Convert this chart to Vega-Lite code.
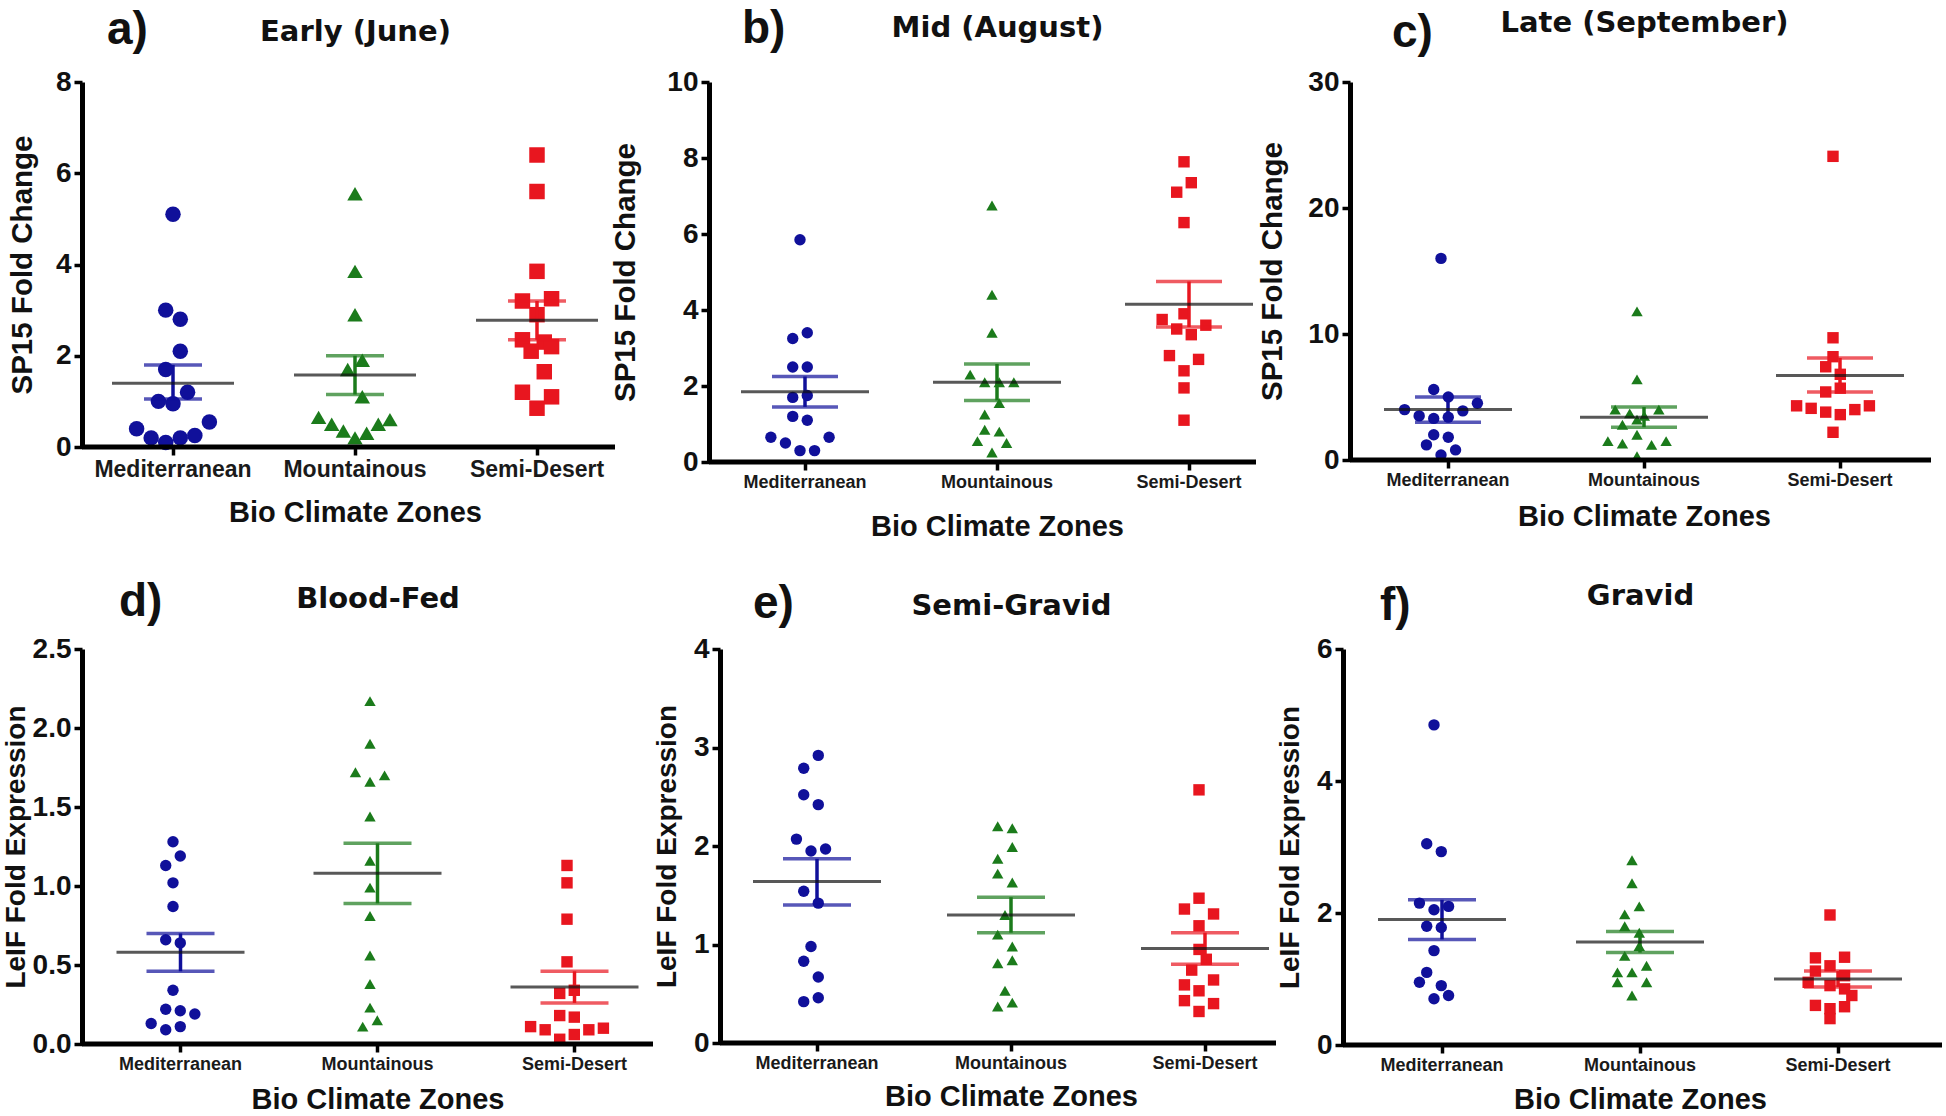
{
"$schema": "https://vega.github.io/schema/vega-lite/v6.json",
"background": "white",
"padding": {"left": 2, "top": 6, "right": 0, "bottom": 0},
"spacing": 38,
"config": {"view": {"stroke": null}, "axis": {"grid": false}},
"datasets": {
"a_pts": [
{"zone":"Mediterranean","v":5.1,"lane":0},{"zone":"Mediterranean","v":3.0,"lane":-0.5},{"zone":"Mediterranean","v":2.8,"lane":0.5},{"zone":"Mediterranean","v":2.1,"lane":0.5},{"zone":"Mediterranean","v":1.7,"lane":-0.5},{"zone":"Mediterranean","v":1.2,"lane":1},{"zone":"Mediterranean","v":1.0,"lane":-1},{"zone":"Mediterranean","v":0.95,"lane":0},{"zone":"Mediterranean","v":0.55,"lane":2.5},{"zone":"Mediterranean","v":0.4,"lane":-2.5},{"zone":"Mediterranean","v":0.2,"lane":-1.5},{"zone":"Mediterranean","v":0.1,"lane":-0.5},{"zone":"Mediterranean","v":0.2,"lane":0.5},{"zone":"Mediterranean","v":0.25,"lane":1.5},
{"zone":"Mountainous","v":5.55,"lane":0},{"zone":"Mountainous","v":3.85,"lane":0},{"zone":"Mountainous","v":2.9,"lane":0},{"zone":"Mountainous","v":1.9,"lane":0.5},{"zone":"Mountainous","v":1.7,"lane":-0.5},{"zone":"Mountainous","v":1.1,"lane":0.5},{"zone":"Mountainous","v":0.65,"lane":-2.5},{"zone":"Mountainous","v":0.5,"lane":-1.6},{"zone":"Mountainous","v":0.35,"lane":-0.8},{"zone":"Mountainous","v":0.2,"lane":0},{"zone":"Mountainous","v":0.3,"lane":0.8},{"zone":"Mountainous","v":0.5,"lane":1.6},{"zone":"Mountainous","v":0.6,"lane":2.4},
{"zone":"Semi-Desert","v":6.4,"lane":0},{"zone":"Semi-Desert","v":5.6,"lane":0},{"zone":"Semi-Desert","v":3.85,"lane":0},{"zone":"Semi-Desert","v":3.2,"lane":-1},{"zone":"Semi-Desert","v":3.25,"lane":1},{"zone":"Semi-Desert","v":2.9,"lane":0},{"zone":"Semi-Desert","v":2.35,"lane":-1},{"zone":"Semi-Desert","v":2.3,"lane":0.5},{"zone":"Semi-Desert","v":2.2,"lane":1},{"zone":"Semi-Desert","v":2.1,"lane":-0.4},{"zone":"Semi-Desert","v":1.65,"lane":0.5},{"zone":"Semi-Desert","v":1.2,"lane":-1},{"zone":"Semi-Desert","v":1.1,"lane":1},{"zone":"Semi-Desert","v":0.85,"lane":0}
],
"a_stats": [{"zone":"Mediterranean","mean":1.4,"lo":1.05,"hi":1.8},{"zone":"Mountainous","mean":1.58,"lo":1.15,"hi":2.0},{"zone":"Semi-Desert","mean":2.78,"lo":2.35,"hi":3.2}],
"b_pts": [
{"zone":"Mediterranean","v":5.85,"lane":0},{"zone":"Mediterranean","v":3.4,"lane":0.5},{"zone":"Mediterranean","v":3.25,"lane":-0.5},{"zone":"Mediterranean","v":2.5,"lane":-0.5},{"zone":"Mediterranean","v":2.5,"lane":0.5},{"zone":"Mediterranean","v":1.7,"lane":-0.5},{"zone":"Mediterranean","v":1.75,"lane":0.5},{"zone":"Mediterranean","v":1.2,"lane":-0.5},{"zone":"Mediterranean","v":1.1,"lane":0.5},{"zone":"Mediterranean","v":0.65,"lane":-2},{"zone":"Mediterranean","v":0.5,"lane":-1},{"zone":"Mediterranean","v":0.3,"lane":0},{"zone":"Mediterranean","v":0.3,"lane":1},{"zone":"Mediterranean","v":0.65,"lane":2},
{"zone":"Mountainous","v":6.75,"lane":0},{"zone":"Mountainous","v":4.4,"lane":0},{"zone":"Mountainous","v":3.4,"lane":0},{"zone":"Mountainous","v":2.3,"lane":-1.5},{"zone":"Mountainous","v":2.1,"lane":-0.5},{"zone":"Mountainous","v":2.1,"lane":0.5},{"zone":"Mountainous","v":2.1,"lane":1.5},{"zone":"Mountainous","v":1.55,"lane":0.5},{"zone":"Mountainous","v":1.25,"lane":-0.5},{"zone":"Mountainous","v":0.85,"lane":-0.5},{"zone":"Mountainous","v":0.8,"lane":0.5},{"zone":"Mountainous","v":0.55,"lane":-1},{"zone":"Mountainous","v":0.5,"lane":1},{"zone":"Mountainous","v":0.25,"lane":0},
{"zone":"Semi-Desert","v":7.9,"lane":0},{"zone":"Semi-Desert","v":7.35,"lane":0.5},{"zone":"Semi-Desert","v":7.1,"lane":-0.5},{"zone":"Semi-Desert","v":6.3,"lane":0},{"zone":"Semi-Desert","v":3.9,"lane":0},{"zone":"Semi-Desert","v":3.75,"lane":-1.5},{"zone":"Semi-Desert","v":3.6,"lane":1.5},{"zone":"Semi-Desert","v":3.5,"lane":-0.5},{"zone":"Semi-Desert","v":3.35,"lane":0.5},{"zone":"Semi-Desert","v":2.8,"lane":-1},{"zone":"Semi-Desert","v":2.7,"lane":1},{"zone":"Semi-Desert","v":2.4,"lane":0},{"zone":"Semi-Desert","v":1.95,"lane":0},{"zone":"Semi-Desert","v":1.1,"lane":0}
],
"b_stats": [{"zone":"Mediterranean","mean":1.85,"lo":1.45,"hi":2.25},{"zone":"Mountainous","mean":2.1,"lo":1.62,"hi":2.58},{"zone":"Semi-Desert","mean":4.15,"lo":3.55,"hi":4.75}],
"c_pts": [
{"zone":"Mediterranean","v":16,"lane":0},{"zone":"Mediterranean","v":5.6,"lane":-0.5},{"zone":"Mediterranean","v":5.0,"lane":0.5},{"zone":"Mediterranean","v":4.5,"lane":2.5},{"zone":"Mediterranean","v":4.0,"lane":-2.5},{"zone":"Mediterranean","v":3.9,"lane":1.5},{"zone":"Mediterranean","v":3.5,"lane":-1.5},{"zone":"Mediterranean","v":3.3,"lane":-0.5},{"zone":"Mediterranean","v":3.4,"lane":0.5},{"zone":"Mediterranean","v":2.0,"lane":-0.5},{"zone":"Mediterranean","v":1.8,"lane":0.5},{"zone":"Mediterranean","v":1.2,"lane":-1},{"zone":"Mediterranean","v":0.8,"lane":1},{"zone":"Mediterranean","v":0.4,"lane":0},
{"zone":"Mountainous","v":11.8,"lane":0},{"zone":"Mountainous","v":6.4,"lane":0},{"zone":"Mountainous","v":4.0,"lane":-1.5},{"zone":"Mountainous","v":4.0,"lane":1.5},{"zone":"Mountainous","v":3.7,"lane":-0.5},{"zone":"Mountainous","v":3.5,"lane":0.5},{"zone":"Mountainous","v":3.2,"lane":0},{"zone":"Mountainous","v":2.8,"lane":-1},{"zone":"Mountainous","v":2.0,"lane":0},{"zone":"Mountainous","v":1.5,"lane":-2},{"zone":"Mountainous","v":1.3,"lane":-1},{"zone":"Mountainous","v":1.2,"lane":1},{"zone":"Mountainous","v":1.5,"lane":2},{"zone":"Mountainous","v":0.3,"lane":0},
{"zone":"Semi-Desert","v":24.1,"lane":0},{"zone":"Semi-Desert","v":9.7,"lane":0},{"zone":"Semi-Desert","v":8.2,"lane":0},{"zone":"Semi-Desert","v":7.4,"lane":-0.5},{"zone":"Semi-Desert","v":6.8,"lane":0.5},{"zone":"Semi-Desert","v":5.7,"lane":0.5},{"zone":"Semi-Desert","v":5.4,"lane":-0.5},{"zone":"Semi-Desert","v":4.3,"lane":-2.5},{"zone":"Semi-Desert","v":4.3,"lane":2.5},{"zone":"Semi-Desert","v":4.1,"lane":-1.5},{"zone":"Semi-Desert","v":3.8,"lane":-0.5},{"zone":"Semi-Desert","v":3.6,"lane":0.5},{"zone":"Semi-Desert","v":4.0,"lane":1.5},{"zone":"Semi-Desert","v":2.2,"lane":0}
],
"c_stats": [{"zone":"Mediterranean","mean":4.0,"lo":3.0,"hi":5.0},{"zone":"Mountainous","mean":3.4,"lo":2.6,"hi":4.2},{"zone":"Semi-Desert","mean":6.7,"lo":5.4,"hi":8.1}],
"d_pts": [
{"zone":"Mediterranean","v":1.28,"lane":0},{"zone":"Mediterranean","v":1.19,"lane":0.5},{"zone":"Mediterranean","v":1.13,"lane":-0.5},{"zone":"Mediterranean","v":1.02,"lane":0},{"zone":"Mediterranean","v":0.87,"lane":0},{"zone":"Mediterranean","v":0.66,"lane":-0.5},{"zone":"Mediterranean","v":0.64,"lane":0.5},{"zone":"Mediterranean","v":0.34,"lane":0},{"zone":"Mediterranean","v":0.22,"lane":-0.5},{"zone":"Mediterranean","v":0.21,"lane":0.5},{"zone":"Mediterranean","v":0.19,"lane":1.5},{"zone":"Mediterranean","v":0.13,"lane":-1.5},{"zone":"Mediterranean","v":0.11,"lane":0.5},{"zone":"Mediterranean","v":0.09,"lane":-0.5},
{"zone":"Mountainous","v":2.17,"lane":0},{"zone":"Mountainous","v":1.9,"lane":0},{"zone":"Mountainous","v":1.72,"lane":-1},{"zone":"Mountainous","v":1.7,"lane":1},{"zone":"Mountainous","v":1.66,"lane":0},{"zone":"Mountainous","v":1.44,"lane":0},{"zone":"Mountainous","v":1.16,"lane":0},{"zone":"Mountainous","v":0.99,"lane":0},{"zone":"Mountainous","v":0.81,"lane":0},{"zone":"Mountainous","v":0.56,"lane":0},{"zone":"Mountainous","v":0.38,"lane":0},{"zone":"Mountainous","v":0.23,"lane":0},{"zone":"Mountainous","v":0.15,"lane":0.5},{"zone":"Mountainous","v":0.11,"lane":-0.5},
{"zone":"Semi-Desert","v":1.13,"lane":0},{"zone":"Semi-Desert","v":1.02,"lane":0},{"zone":"Semi-Desert","v":0.79,"lane":0},{"zone":"Semi-Desert","v":0.52,"lane":0},{"zone":"Semi-Desert","v":0.34,"lane":0.5},{"zone":"Semi-Desert","v":0.32,"lane":-0.5},{"zone":"Semi-Desert","v":0.18,"lane":-0.5},{"zone":"Semi-Desert","v":0.17,"lane":0.5},{"zone":"Semi-Desert","v":0.11,"lane":-2.5},{"zone":"Semi-Desert","v":0.1,"lane":2.5},{"zone":"Semi-Desert","v":0.09,"lane":-1.5},{"zone":"Semi-Desert","v":0.09,"lane":1.5},{"zone":"Semi-Desert","v":0.06,"lane":0.5},{"zone":"Semi-Desert","v":0.03,"lane":-0.5}
],
"d_stats": [{"zone":"Mediterranean","mean":0.58,"lo":0.46,"hi":0.7},{"zone":"Mountainous","mean":1.08,"lo":0.89,"hi":1.27},{"zone":"Semi-Desert","mean":0.36,"lo":0.26,"hi":0.46}],
"e_pts": [
{"zone":"Mediterranean","v":2.92,"lane":0.5},{"zone":"Mediterranean","v":2.79,"lane":-0.5},{"zone":"Mediterranean","v":2.52,"lane":-0.5},{"zone":"Mediterranean","v":2.42,"lane":0.5},{"zone":"Mediterranean","v":2.07,"lane":-1},{"zone":"Mediterranean","v":1.97,"lane":1},{"zone":"Mediterranean","v":1.95,"lane":0},{"zone":"Mediterranean","v":1.54,"lane":-0.5},{"zone":"Mediterranean","v":1.42,"lane":0.5},{"zone":"Mediterranean","v":0.98,"lane":0},{"zone":"Mediterranean","v":0.83,"lane":-0.5},{"zone":"Mediterranean","v":0.67,"lane":0.5},{"zone":"Mediterranean","v":0.46,"lane":0.5},{"zone":"Mediterranean","v":0.42,"lane":-0.5},
{"zone":"Mountainous","v":2.2,"lane":-0.5},{"zone":"Mountainous","v":2.18,"lane":0.5},{"zone":"Mountainous","v":1.99,"lane":0.5},{"zone":"Mountainous","v":1.87,"lane":-0.5},{"zone":"Mountainous","v":1.72,"lane":-0.5},{"zone":"Mountainous","v":1.63,"lane":0.5},{"zone":"Mountainous","v":1.3,"lane":0},{"zone":"Mountainous","v":1.1,"lane":-0.5},{"zone":"Mountainous","v":0.98,"lane":0.5},{"zone":"Mountainous","v":0.84,"lane":0.5},{"zone":"Mountainous","v":0.81,"lane":-0.5},{"zone":"Mountainous","v":0.53,"lane":0},{"zone":"Mountainous","v":0.41,"lane":0.5},{"zone":"Mountainous","v":0.37,"lane":-0.5},
{"zone":"Semi-Desert","v":2.57,"lane":0},{"zone":"Semi-Desert","v":1.47,"lane":0},{"zone":"Semi-Desert","v":1.36,"lane":-1},{"zone":"Semi-Desert","v":1.31,"lane":1},{"zone":"Semi-Desert","v":1.19,"lane":0},{"zone":"Semi-Desert","v":0.95,"lane":0},{"zone":"Semi-Desert","v":0.85,"lane":0.5},{"zone":"Semi-Desert","v":0.74,"lane":-0.5},{"zone":"Semi-Desert","v":0.64,"lane":1},{"zone":"Semi-Desert","v":0.59,"lane":-1},{"zone":"Semi-Desert","v":0.53,"lane":0},{"zone":"Semi-Desert","v":0.43,"lane":-1},{"zone":"Semi-Desert","v":0.4,"lane":1},{"zone":"Semi-Desert","v":0.32,"lane":0}
],
"e_stats": [{"zone":"Mediterranean","mean":1.64,"lo":1.4,"hi":1.87},{"zone":"Mountainous","mean":1.3,"lo":1.12,"hi":1.48},{"zone":"Semi-Desert","mean":0.96,"lo":0.8,"hi":1.12}],
"f_pts": [
{"zone":"Mediterranean","v":4.85,"lane":0},{"zone":"Mediterranean","v":3.05,"lane":-0.5},{"zone":"Mediterranean","v":2.93,"lane":0.5},{"zone":"Mediterranean","v":2.15,"lane":-1},{"zone":"Mediterranean","v":2.1,"lane":1},{"zone":"Mediterranean","v":2.05,"lane":0},{"zone":"Mediterranean","v":1.8,"lane":-0.5},{"zone":"Mediterranean","v":1.78,"lane":0.5},{"zone":"Mediterranean","v":1.43,"lane":0},{"zone":"Mediterranean","v":1.1,"lane":-0.5},{"zone":"Mediterranean","v":0.95,"lane":-1},{"zone":"Mediterranean","v":0.9,"lane":0.5},{"zone":"Mediterranean","v":0.75,"lane":1},{"zone":"Mediterranean","v":0.7,"lane":0},
{"zone":"Mountainous","v":2.8,"lane":0},{"zone":"Mountainous","v":2.45,"lane":0},{"zone":"Mountainous","v":2.1,"lane":0.5},{"zone":"Mountainous","v":1.98,"lane":-0.5},{"zone":"Mountainous","v":1.8,"lane":-0.5},{"zone":"Mountainous","v":1.7,"lane":0.5},{"zone":"Mountainous","v":1.5,"lane":0.5},{"zone":"Mountainous","v":1.35,"lane":-0.5},{"zone":"Mountainous","v":1.2,"lane":1},{"zone":"Mountainous","v":1.1,"lane":-1},{"zone":"Mountainous","v":1.1,"lane":0},{"zone":"Mountainous","v":0.95,"lane":-1},{"zone":"Mountainous","v":0.95,"lane":1},{"zone":"Mountainous","v":0.75,"lane":0},
{"zone":"Semi-Desert","v":1.97,"lane":0},{"zone":"Semi-Desert","v":1.32,"lane":-1},{"zone":"Semi-Desert","v":1.33,"lane":1},{"zone":"Semi-Desert","v":1.2,"lane":0},{"zone":"Semi-Desert","v":1.12,"lane":-1},{"zone":"Semi-Desert","v":1.05,"lane":1},{"zone":"Semi-Desert","v":0.95,"lane":-1.5},{"zone":"Semi-Desert","v":0.9,"lane":0},{"zone":"Semi-Desert","v":0.85,"lane":1},{"zone":"Semi-Desert","v":0.75,"lane":1.5},{"zone":"Semi-Desert","v":0.6,"lane":-1},{"zone":"Semi-Desert","v":0.58,"lane":1},{"zone":"Semi-Desert","v":0.55,"lane":0},{"zone":"Semi-Desert","v":0.4,"lane":0}
],
"f_stats": [{"zone":"Mediterranean","mean":1.9,"lo":1.6,"hi":2.2},{"zone":"Mountainous","mean":1.56,"lo":1.4,"hi":1.72},{"zone":"Semi-Desert","mean":1.0,"lo":0.88,"hi":1.12}]
},
"vconcat": [
{"hconcat": [
{"width": 533, "height": 365,
 "title": {"text": "a)", "anchor": "start", "frame": "group", "dx": 25, "offset": -73, "fontSize": 46, "font": "Liberation Sans", "fontWeight": "bold", "baseline": "alphabetic", "color": "#111111"},
 "resolve": {"axis": {"x": "independent"}},
 "layer": [
  {"data": {"name": "a_pts"}, "mark": {"type": "point", "filled": true, "opacity": 1, "size": 240},
   "encoding": {
    "x": {"field": "zone", "type": "nominal", "sort": null, "scale": {"domain": ["Mediterranean","Mountainous","Semi-Desert"], "range": [0, 546], "paddingInner": 0, "paddingOuter": 0},
      "axis": {"orient": "bottom", "title": "Bio Climate Zones", "labelAngle": 0, "domain": false, "tickSize": 8, "tickWidth": 3.5, "tickColor": "#000000", "labelFont": "Liberation Sans", "labelFontSize": 23, "labelFontWeight": "bold", "labelColor": "#1a1a1a", "labelPadding": 3, "minExtent": 34, "maxExtent": 34, "titleFont": "Liberation Sans", "titleFontSize": 29, "titleFontWeight": "bold", "titleColor": "#111111", "titleBaseline": "alphabetic", "titlePadding": 40}},
    "xOffset": {"field": "lane", "type": "quantitative", "scale": {"domain": [-4.5, 4.5]}},
    "y": {"field": "v", "type": "quantitative", "scale": {"domain": [0, 8], "nice": false},
      "axis": {"title": "SP15 Fold Change", "values": [0,2,4,6,8], "format": "d", "domainWidth": 5, "domainColor": "#000000", "tickSize": 8, "tickWidth": 3.5, "tickColor": "#000000", "labelFont": "Liberation Sans", "labelFontSize": 28, "labelFontWeight": "bold", "labelColor": "#111111", "labelPadding": 3, "minExtent": 35, "maxExtent": 35, "titleFont": "Liberation Sans", "titleFontSize": 29.5, "titleFontWeight": "bold", "titleColor": "#111111", "titlePadding": 10}},
    "color": {"field": "zone", "type": "nominal", "scale": {"domain": ["Mediterranean","Mountainous","Semi-Desert"], "range": ["#10109a","#1b7b1b","#e8161f"]}, "legend": null},
    "shape": {"field": "zone", "type": "nominal", "scale": {"domain": ["Mediterranean","Mountainous","Semi-Desert"], "range": ["circle","triangle-up","square"]}, "legend": null}
   }},
  {"data": {"values": [{}]}, "mark": {"type": "rule", "strokeWidth": 5, "color": "#000000"}, "encoding": {"y": {"datum": 0}}},
  {"data": {"name": "a_stats"}, "mark": {"type": "rule", "strokeWidth": 3.5}, "encoding": {"x": {"field": "zone", "type": "nominal", "axis": null}, "y": {"field": "lo", "type": "quantitative"}, "y2": {"field": "hi"}, "color": {"field": "zone", "type": "nominal", "legend": null}}},
  {"data": {"name": "a_stats"}, "mark": {"type": "tick", "thickness": 3.5, "size": 58}, "encoding": {"x": {"field": "zone", "type": "nominal", "axis": null}, "y": {"field": "lo", "type": "quantitative"}, "color": {"field": "zone", "type": "nominal", "legend": null}}},
  {"data": {"name": "a_stats"}, "mark": {"type": "tick", "thickness": 3.5, "size": 58}, "encoding": {"x": {"field": "zone", "type": "nominal", "axis": null}, "y": {"field": "hi", "type": "quantitative"}, "color": {"field": "zone", "type": "nominal", "legend": null}}},
  {"data": {"name": "a_stats"}, "mark": {"type": "tick", "thickness": 3, "size": 122, "color": "#111111"}, "encoding": {"x": {"field": "zone", "type": "nominal", "axis": {"orient": "top", "title": "Early (June)", "labels": false, "ticks": false, "domain": false, "minExtent": 0, "maxExtent": 0, "titleFont": "DejaVu Sans", "titleFontSize": 29, "titleFontWeight": "bold", "titleColor": "#111111", "titleBaseline": "alphabetic", "titlePadding": 42}}, "y": {"field": "mean", "type": "quantitative"}}}
 ]},
{"width": 547, "height": 380,
 "title": {"text": "b)", "anchor": "start", "frame": "group", "dx": 33, "offset": -76, "fontSize": 46, "font": "Liberation Sans", "fontWeight": "bold", "baseline": "alphabetic", "color": "#111111"},
 "resolve": {"axis": {"x": "independent"}},
 "layer": [
  {"data": {"name": "b_pts"}, "mark": {"type": "point", "filled": true, "opacity": 1, "size": 130},
   "encoding": {
    "x": {"field": "zone", "type": "nominal", "sort": null, "scale": {"domain": ["Mediterranean","Mountainous","Semi-Desert"], "range": [0, 576], "paddingInner": 0, "paddingOuter": 0},
      "axis": {"orient": "bottom", "title": "Bio Climate Zones", "labelAngle": 0, "domain": false, "tickSize": 8, "tickWidth": 3.5, "tickColor": "#000000", "labelFont": "Liberation Sans", "labelFontSize": 18, "labelFontWeight": "bold", "labelColor": "#1a1a1a", "labelPadding": 3, "minExtent": 30, "maxExtent": 30, "titleFont": "Liberation Sans", "titleFontSize": 29, "titleFontWeight": "bold", "titleColor": "#111111", "titleBaseline": "alphabetic", "titlePadding": 43}},
    "xOffset": {"field": "lane", "type": "quantitative", "scale": {"domain": [-6.25, 6.25]}},
    "y": {"field": "v", "type": "quantitative", "scale": {"domain": [0, 10], "nice": false},
      "axis": {"title": "SP15 Fold Change", "values": [0,2,4,6,8,10], "format": "d", "domainWidth": 5, "domainColor": "#000000", "tickSize": 8, "tickWidth": 3.5, "tickColor": "#000000", "labelFont": "Liberation Sans", "labelFontSize": 28, "labelFontWeight": "bold", "labelColor": "#111111", "labelPadding": 3, "minExtent": 57, "maxExtent": 57, "titleFont": "Liberation Sans", "titleFontSize": 29.5, "titleFontWeight": "bold", "titleColor": "#111111", "titlePadding": 12}},
    "color": {"field": "zone", "type": "nominal", "scale": {"domain": ["Mediterranean","Mountainous","Semi-Desert"], "range": ["#10109a","#1b7b1b","#e8161f"]}, "legend": null},
    "shape": {"field": "zone", "type": "nominal", "scale": {"domain": ["Mediterranean","Mountainous","Semi-Desert"], "range": ["circle","triangle-up","square"]}, "legend": null}
   }},
  {"data": {"values": [{}]}, "mark": {"type": "rule", "strokeWidth": 5, "color": "#000000"}, "encoding": {"y": {"datum": 0}}},
  {"data": {"name": "b_stats"}, "mark": {"type": "rule", "strokeWidth": 3.5}, "encoding": {"x": {"field": "zone", "type": "nominal", "axis": null}, "y": {"field": "lo", "type": "quantitative"}, "y2": {"field": "hi"}, "color": {"field": "zone", "type": "nominal", "legend": null}}},
  {"data": {"name": "b_stats"}, "mark": {"type": "tick", "thickness": 3.5, "size": 66}, "encoding": {"x": {"field": "zone", "type": "nominal", "axis": null}, "y": {"field": "lo", "type": "quantitative"}, "color": {"field": "zone", "type": "nominal", "legend": null}}},
  {"data": {"name": "b_stats"}, "mark": {"type": "tick", "thickness": 3.5, "size": 66}, "encoding": {"x": {"field": "zone", "type": "nominal", "axis": null}, "y": {"field": "hi", "type": "quantitative"}, "color": {"field": "zone", "type": "nominal", "legend": null}}},
  {"data": {"name": "b_stats"}, "mark": {"type": "tick", "thickness": 3, "size": 128, "color": "#111111"}, "encoding": {"x": {"field": "zone", "type": "nominal", "axis": {"orient": "top", "title": "Mid (August)", "labels": false, "ticks": false, "domain": false, "minExtent": 0, "maxExtent": 0, "titleFont": "DejaVu Sans", "titleFontSize": 29, "titleFontWeight": "bold", "titleColor": "#111111", "titleBaseline": "alphabetic", "titlePadding": 46}}, "y": {"field": "mean", "type": "quantitative"}}}
 ]},
{"width": 581, "height": 378,
 "title": {"text": "c)", "anchor": "start", "frame": "group", "dx": 42, "offset": -85, "fontSize": 46, "font": "Liberation Sans", "fontWeight": "bold", "baseline": "alphabetic", "color": "#111111"},
 "resolve": {"axis": {"x": "independent"}},
 "layer": [
  {"data": {"name": "c_pts"}, "mark": {"type": "point", "filled": true, "opacity": 1, "size": 130},
   "encoding": {
    "x": {"field": "zone", "type": "nominal", "sort": null, "scale": {"domain": ["Mediterranean","Mountainous","Semi-Desert"], "range": [0, 588], "paddingInner": 0, "paddingOuter": 0},
      "axis": {"orient": "bottom", "title": "Bio Climate Zones", "labelAngle": 0, "domain": false, "tickSize": 8, "tickWidth": 3.5, "tickColor": "#000000", "labelFont": "Liberation Sans", "labelFontSize": 18, "labelFontWeight": "bold", "labelColor": "#1a1a1a", "labelPadding": 3, "minExtent": 30, "maxExtent": 30, "titleFont": "Liberation Sans", "titleFontSize": 29, "titleFontWeight": "bold", "titleColor": "#111111", "titleBaseline": "alphabetic", "titlePadding": 35}},
    "xOffset": {"field": "lane", "type": "quantitative", "scale": {"domain": [-6.25, 6.25]}},
    "y": {"field": "v", "type": "quantitative", "scale": {"domain": [0, 30], "nice": false},
      "axis": {"title": "SP15 Fold Change", "values": [0,10,20,30], "format": "d", "domainWidth": 5, "domainColor": "#000000", "tickSize": 8, "tickWidth": 3.5, "tickColor": "#000000", "labelFont": "Liberation Sans", "labelFontSize": 28, "labelFontWeight": "bold", "labelColor": "#111111", "labelPadding": 3, "minExtent": 51, "maxExtent": 51, "titleFont": "Liberation Sans", "titleFontSize": 29.5, "titleFontWeight": "bold", "titleColor": "#111111", "titlePadding": 12}},
    "color": {"field": "zone", "type": "nominal", "scale": {"domain": ["Mediterranean","Mountainous","Semi-Desert"], "range": ["#10109a","#1b7b1b","#e8161f"]}, "legend": null},
    "shape": {"field": "zone", "type": "nominal", "scale": {"domain": ["Mediterranean","Mountainous","Semi-Desert"], "range": ["circle","triangle-up","square"]}, "legend": null}
   }},
  {"data": {"values": [{}]}, "mark": {"type": "rule", "strokeWidth": 5, "color": "#000000"}, "encoding": {"y": {"datum": 0}}},
  {"data": {"name": "c_stats"}, "mark": {"type": "rule", "strokeWidth": 3.5}, "encoding": {"x": {"field": "zone", "type": "nominal", "axis": null}, "y": {"field": "lo", "type": "quantitative"}, "y2": {"field": "hi"}, "color": {"field": "zone", "type": "nominal", "legend": null}}},
  {"data": {"name": "c_stats"}, "mark": {"type": "tick", "thickness": 3.5, "size": 66}, "encoding": {"x": {"field": "zone", "type": "nominal", "axis": null}, "y": {"field": "lo", "type": "quantitative"}, "color": {"field": "zone", "type": "nominal", "legend": null}}},
  {"data": {"name": "c_stats"}, "mark": {"type": "tick", "thickness": 3.5, "size": 66}, "encoding": {"x": {"field": "zone", "type": "nominal", "axis": null}, "y": {"field": "hi", "type": "quantitative"}, "color": {"field": "zone", "type": "nominal", "legend": null}}},
  {"data": {"name": "c_stats"}, "mark": {"type": "tick", "thickness": 3, "size": 128, "color": "#111111"}, "encoding": {"x": {"field": "zone", "type": "nominal", "axis": {"orient": "top", "title": "Late (September)", "labels": false, "ticks": false, "domain": false, "minExtent": 0, "maxExtent": 0, "titleFont": "DejaVu Sans", "titleFontSize": 29, "titleFontWeight": "bold", "titleColor": "#111111", "titleBaseline": "alphabetic", "titlePadding": 51}}, "y": {"field": "mean", "type": "quantitative"}}}
 ]}
], "spacing": 94, "bounds": "flush"},
{"hconcat": [
{"width": 571, "height": 395,
 "title": {"text": "d)", "anchor": "start", "frame": "group", "dx": 37, "offset": -78, "fontSize": 46, "font": "Liberation Sans", "fontWeight": "bold", "baseline": "alphabetic", "color": "#111111"},
 "resolve": {"axis": {"x": "independent"}},
 "layer": [
  {"data": {"name": "d_pts"}, "mark": {"type": "point", "filled": true, "opacity": 1, "size": 130},
   "encoding": {
    "x": {"field": "zone", "type": "nominal", "sort": null, "scale": {"domain": ["Mediterranean","Mountainous","Semi-Desert"], "range": [0, 591], "paddingInner": 0, "paddingOuter": 0},
      "axis": {"orient": "bottom", "title": "Bio Climate Zones", "labelAngle": 0, "domain": false, "tickSize": 8, "tickWidth": 3.5, "tickColor": "#000000", "labelFont": "Liberation Sans", "labelFontSize": 18, "labelFontWeight": "bold", "labelColor": "#1a1a1a", "labelPadding": 3, "minExtent": 30, "maxExtent": 30, "titleFont": "Liberation Sans", "titleFontSize": 29, "titleFontWeight": "bold", "titleColor": "#111111", "titleBaseline": "alphabetic", "titlePadding": 34}},
    "xOffset": {"field": "lane", "type": "quantitative", "scale": {"domain": [-6.25, 6.25]}},
    "y": {"field": "v", "type": "quantitative", "scale": {"domain": [0, 2.5], "nice": false},
      "axis": {"title": "LeIF Fold Expression", "values": [0,0.5,1,1.5,2,2.5], "format": ".1f", "domainWidth": 5, "domainColor": "#000000", "tickSize": 8, "tickWidth": 3.5, "tickColor": "#000000", "labelFont": "Liberation Sans", "labelFontSize": 28, "labelFontWeight": "bold", "labelColor": "#111111", "labelPadding": 3, "minExtent": 50, "maxExtent": 50, "titleFont": "Liberation Sans", "titleFontSize": 28, "titleFontWeight": "bold", "titleColor": "#111111", "titlePadding": 2}},
    "color": {"field": "zone", "type": "nominal", "scale": {"domain": ["Mediterranean","Mountainous","Semi-Desert"], "range": ["#10109a","#1b7b1b","#e8161f"]}, "legend": null},
    "shape": {"field": "zone", "type": "nominal", "scale": {"domain": ["Mediterranean","Mountainous","Semi-Desert"], "range": ["circle","triangle-up","square"]}, "legend": null}
   }},
  {"data": {"values": [{}]}, "mark": {"type": "rule", "strokeWidth": 5, "color": "#000000"}, "encoding": {"y": {"datum": 0}}},
  {"data": {"name": "d_stats"}, "mark": {"type": "rule", "strokeWidth": 3.5}, "encoding": {"x": {"field": "zone", "type": "nominal", "axis": null}, "y": {"field": "lo", "type": "quantitative"}, "y2": {"field": "hi"}, "color": {"field": "zone", "type": "nominal", "legend": null}}},
  {"data": {"name": "d_stats"}, "mark": {"type": "tick", "thickness": 3.5, "size": 68}, "encoding": {"x": {"field": "zone", "type": "nominal", "axis": null}, "y": {"field": "lo", "type": "quantitative"}, "color": {"field": "zone", "type": "nominal", "legend": null}}},
  {"data": {"name": "d_stats"}, "mark": {"type": "tick", "thickness": 3.5, "size": 68}, "encoding": {"x": {"field": "zone", "type": "nominal", "axis": null}, "y": {"field": "hi", "type": "quantitative"}, "color": {"field": "zone", "type": "nominal", "legend": null}}},
  {"data": {"name": "d_stats"}, "mark": {"type": "tick", "thickness": 3, "size": 128, "color": "#111111"}, "encoding": {"x": {"field": "zone", "type": "nominal", "axis": {"orient": "top", "title": "Blood-Fed", "labels": false, "ticks": false, "domain": false, "minExtent": 0, "maxExtent": 0, "titleFont": "DejaVu Sans", "titleFontSize": 29, "titleFontWeight": "bold", "titleColor": "#111111", "titleBaseline": "alphabetic", "titlePadding": 42}}, "y": {"field": "mean", "type": "quantitative"}}}
 ]},
{"width": 556, "height": 394,
 "title": {"text": "e)", "anchor": "start", "frame": "group", "dx": 33, "offset": -73, "fontSize": 46, "font": "Liberation Sans", "fontWeight": "bold", "baseline": "alphabetic", "color": "#111111"},
 "resolve": {"axis": {"x": "independent"}},
 "layer": [
  {"data": {"name": "e_pts"}, "mark": {"type": "point", "filled": true, "opacity": 1, "size": 130},
   "encoding": {
    "x": {"field": "zone", "type": "nominal", "sort": null, "scale": {"domain": ["Mediterranean","Mountainous","Semi-Desert"], "range": [0, 582], "paddingInner": 0, "paddingOuter": 0},
      "axis": {"orient": "bottom", "title": "Bio Climate Zones", "labelAngle": 0, "domain": false, "tickSize": 8, "tickWidth": 3.5, "tickColor": "#000000", "labelFont": "Liberation Sans", "labelFontSize": 18, "labelFontWeight": "bold", "labelColor": "#1a1a1a", "labelPadding": 3, "minExtent": 30, "maxExtent": 30, "titleFont": "Liberation Sans", "titleFontSize": 29, "titleFontWeight": "bold", "titleColor": "#111111", "titleBaseline": "alphabetic", "titlePadding": 32}},
    "xOffset": {"field": "lane", "type": "quantitative", "scale": {"domain": [-6.25, 6.25]}},
    "y": {"field": "v", "type": "quantitative", "scale": {"domain": [0, 4], "nice": false},
      "axis": {"title": "LeIF Fold Expression", "values": [0,1,2,3,4], "format": "d", "domainWidth": 5, "domainColor": "#000000", "tickSize": 8, "tickWidth": 3.5, "tickColor": "#000000", "labelFont": "Liberation Sans", "labelFontSize": 28, "labelFontWeight": "bold", "labelColor": "#111111", "labelPadding": 3, "minExtent": 29, "maxExtent": 29, "titleFont": "Liberation Sans", "titleFontSize": 28, "titleFontWeight": "bold", "titleColor": "#111111", "titlePadding": 10}},
    "color": {"field": "zone", "type": "nominal", "scale": {"domain": ["Mediterranean","Mountainous","Semi-Desert"], "range": ["#10109a","#1b7b1b","#e8161f"]}, "legend": null},
    "shape": {"field": "zone", "type": "nominal", "scale": {"domain": ["Mediterranean","Mountainous","Semi-Desert"], "range": ["circle","triangle-up","square"]}, "legend": null}
   }},
  {"data": {"values": [{}]}, "mark": {"type": "rule", "strokeWidth": 5, "color": "#000000"}, "encoding": {"y": {"datum": 0}}},
  {"data": {"name": "e_stats"}, "mark": {"type": "rule", "strokeWidth": 3.5}, "encoding": {"x": {"field": "zone", "type": "nominal", "axis": null}, "y": {"field": "lo", "type": "quantitative"}, "y2": {"field": "hi"}, "color": {"field": "zone", "type": "nominal", "legend": null}}},
  {"data": {"name": "e_stats"}, "mark": {"type": "tick", "thickness": 3.5, "size": 68}, "encoding": {"x": {"field": "zone", "type": "nominal", "axis": null}, "y": {"field": "lo", "type": "quantitative"}, "color": {"field": "zone", "type": "nominal", "legend": null}}},
  {"data": {"name": "e_stats"}, "mark": {"type": "tick", "thickness": 3.5, "size": 68}, "encoding": {"x": {"field": "zone", "type": "nominal", "axis": null}, "y": {"field": "hi", "type": "quantitative"}, "color": {"field": "zone", "type": "nominal", "legend": null}}},
  {"data": {"name": "e_stats"}, "mark": {"type": "tick", "thickness": 3, "size": 128, "color": "#111111"}, "encoding": {"x": {"field": "zone", "type": "nominal", "axis": {"orient": "top", "title": "Semi-Gravid", "labels": false, "ticks": false, "domain": false, "minExtent": 0, "maxExtent": 0, "titleFont": "DejaVu Sans", "titleFontSize": 29, "titleFontWeight": "bold", "titleColor": "#111111", "titleBaseline": "alphabetic", "titlePadding": 35}}, "y": {"field": "mean", "type": "quantitative"}}}
 ]},
{"width": 599, "height": 396,
 "title": {"text": "f)", "anchor": "start", "frame": "group", "dx": 37, "offset": -85, "fontSize": 46, "font": "Liberation Sans", "fontWeight": "bold", "baseline": "alphabetic", "color": "#111111"},
 "resolve": {"axis": {"x": "independent"}},
 "layer": [
  {"data": {"name": "f_pts"}, "mark": {"type": "point", "filled": true, "opacity": 1, "size": 130},
   "encoding": {
    "x": {"field": "zone", "type": "nominal", "sort": null, "scale": {"domain": ["Mediterranean","Mountainous","Semi-Desert"], "range": [0, 594], "paddingInner": 0, "paddingOuter": 0},
      "axis": {"orient": "bottom", "title": "Bio Climate Zones", "labelAngle": 0, "domain": false, "tickSize": 8, "tickWidth": 3.5, "tickColor": "#000000", "labelFont": "Liberation Sans", "labelFontSize": 18, "labelFontWeight": "bold", "labelColor": "#1a1a1a", "labelPadding": 3, "minExtent": 30, "maxExtent": 30, "titleFont": "Liberation Sans", "titleFontSize": 29, "titleFontWeight": "bold", "titleColor": "#111111", "titleBaseline": "alphabetic", "titlePadding": 33}},
    "xOffset": {"field": "lane", "type": "quantitative", "scale": {"domain": [-6.25, 6.25]}},
    "y": {"field": "v", "type": "quantitative", "scale": {"domain": [0, 6], "nice": false},
      "axis": {"title": "LeIF Fold Expression", "values": [0,2,4,6], "format": "d", "domainWidth": 5, "domainColor": "#000000", "tickSize": 8, "tickWidth": 3.5, "tickColor": "#000000", "labelFont": "Liberation Sans", "labelFontSize": 28, "labelFontWeight": "bold", "labelColor": "#111111", "labelPadding": 3, "minExtent": 29, "maxExtent": 29, "titleFont": "Liberation Sans", "titleFontSize": 28, "titleFontWeight": "bold", "titleColor": "#111111", "titlePadding": 10}},
    "color": {"field": "zone", "type": "nominal", "scale": {"domain": ["Mediterranean","Mountainous","Semi-Desert"], "range": ["#10109a","#1b7b1b","#e8161f"]}, "legend": null},
    "shape": {"field": "zone", "type": "nominal", "scale": {"domain": ["Mediterranean","Mountainous","Semi-Desert"], "range": ["circle","triangle-up","square"]}, "legend": null}
   }},
  {"data": {"values": [{}]}, "mark": {"type": "rule", "strokeWidth": 5, "color": "#000000"}, "encoding": {"y": {"datum": 0}}},
  {"data": {"name": "f_stats"}, "mark": {"type": "rule", "strokeWidth": 3.5}, "encoding": {"x": {"field": "zone", "type": "nominal", "axis": null}, "y": {"field": "lo", "type": "quantitative"}, "y2": {"field": "hi"}, "color": {"field": "zone", "type": "nominal", "legend": null}}},
  {"data": {"name": "f_stats"}, "mark": {"type": "tick", "thickness": 3.5, "size": 68}, "encoding": {"x": {"field": "zone", "type": "nominal", "axis": null}, "y": {"field": "lo", "type": "quantitative"}, "color": {"field": "zone", "type": "nominal", "legend": null}}},
  {"data": {"name": "f_stats"}, "mark": {"type": "tick", "thickness": 3.5, "size": 68}, "encoding": {"x": {"field": "zone", "type": "nominal", "axis": null}, "y": {"field": "hi", "type": "quantitative"}, "color": {"field": "zone", "type": "nominal", "legend": null}}},
  {"data": {"name": "f_stats"}, "mark": {"type": "tick", "thickness": 3, "size": 128, "color": "#111111"}, "encoding": {"x": {"field": "zone", "type": "nominal", "axis": {"orient": "top", "title": "Gravid", "labels": false, "ticks": false, "domain": false, "minExtent": 0, "maxExtent": 0, "titleFont": "DejaVu Sans", "titleFontSize": 29, "titleFontWeight": "bold", "titleColor": "#111111", "titleBaseline": "alphabetic", "titlePadding": 45}}, "y": {"field": "mean", "type": "quantitative"}}}
 ]}
], "spacing": 67, "bounds": "flush"}
]
}
